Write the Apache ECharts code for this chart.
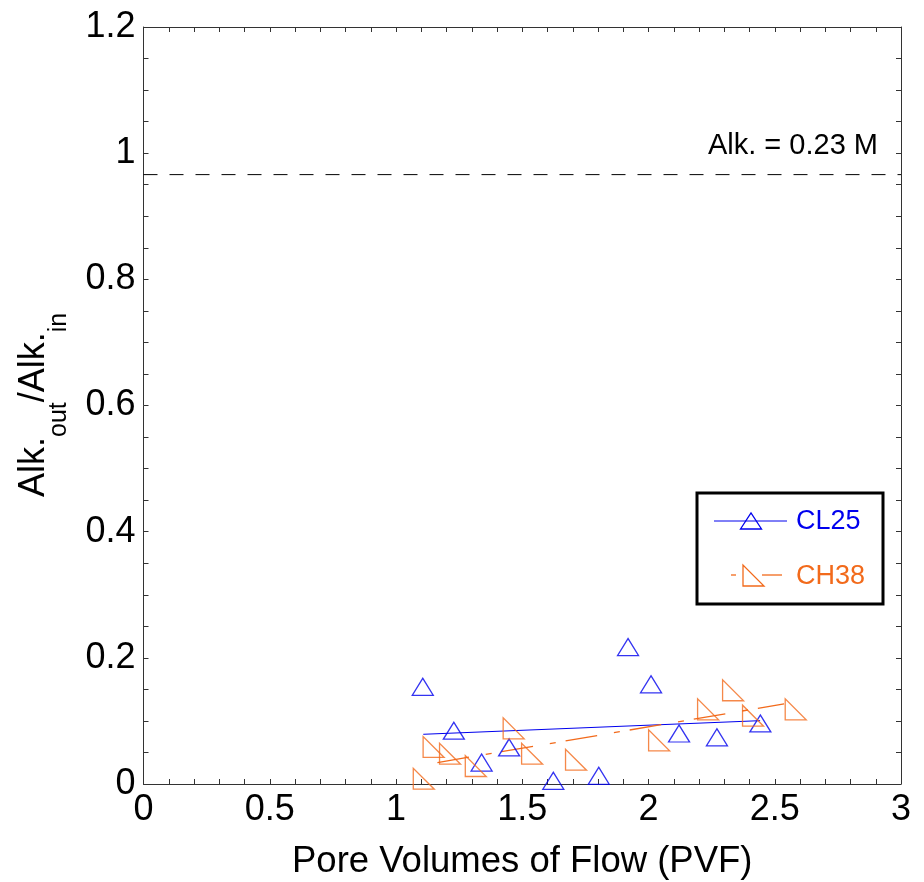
<!DOCTYPE html>
<html><head><meta charset="utf-8">
<script src="https://cdn.jsdelivr.net/npm/echarts@6/dist/echarts.min.js"></script>
<style>html,body{margin:0;padding:0;background:#fff}#c{width:924px;height:882px}</style>
</head><body><div id="c"></div>
<script>
// ---- data ----
const seriesNames = ['CL25', 'CH38'];
const cl25X = [1.106, 1.229, 1.339, 1.448, 1.623, 1.803, 1.919, 2.010, 2.121, 2.271, 2.443];
const cl25Y = [0.154, 0.0845, 0.034, 0.058, 0.005, 0.013, 0.217, 0.158, 0.080, 0.074, 0.096];
const ch38X = [1.149, 1.214, 1.316, 1.110, 1.466, 1.539, 1.713, 2.042, 2.236, 2.335, 2.414, 2.583];
const ch38Y = [0.0587, 0.048, 0.0285, 0.0084, 0.0883, 0.048, 0.0385, 0.0693, 0.1184, 0.1486, 0.1083, 0.1184];
const cl25FitX = [1.108, 2.442];
const cl25FitY = [0.0788, 0.1004];
const ch38FitX = [1.164, 2.537];
const ch38FitY = [0.034, 0.127];
const refLineX = [0, 3];
const refLineY = [0.966, 0.966];
const refLabel = 'Alk. = 0.23 M';
const xName = 'Pore Volumes of Flow (PVF)';
const yNameParts = ['Alk.', 'out', '/Alk.', 'in'];

// ---- styling ----
const FF = 'Liberation Sans, Arial, Helvetica, sans-serif';
const BLUE = '#0000ee';
const ORANGE = '#f26a1b';
const AX = '#333333';
const pair = (xs, ys) => xs.map((x, i) => [x, ys[i]]);

const tickCommon = {
  axisLine: { show: true, onZero: false, lineStyle: { color: AX, width: 1 } },
  axisTick: { show: true, inside: true, length: 5, lineStyle: { color: AX, width: 1 } },
  minorTick: { show: true, length: 5, lineStyle: { color: AX, width: 1 } },
  splitLine: { show: false }
};

const chart = echarts.init(document.getElementById('c'), null, { renderer: 'canvas' });
const option = {
  animation: false,
  backgroundColor: '#ffffff',
  grid: { left: 143.5, right: 23, top: 27, bottom: 98, containLabel: false, outerBoundsMode: 'none' },
  xAxis: [
    Object.assign({}, tickCommon, {
      type: 'value', min: 0, max: 3, interval: 0.5, position: 'bottom',
      minorTick: Object.assign({}, tickCommon.minorTick, { splitNumber: 5 }),
      axisLabel: { fontSize: 36, margin: 8, color: '#000', fontFamily: FF },
      name: xName, nameLocation: 'middle', nameGap: 59,
      nameTextStyle: { fontSize: 36.5, color: '#000', fontFamily: FF }
    }),
    Object.assign({}, tickCommon, {
      type: 'value', min: 0, max: 3, interval: 0.5, position: 'top',
      minorTick: Object.assign({}, tickCommon.minorTick, { splitNumber: 5 }),
      axisLabel: { show: false }
    })
  ],
  yAxis: [
    Object.assign({}, tickCommon, {
      type: 'value', min: 0, max: 1.2, interval: 0.2, position: 'left',
      minorTick: Object.assign({}, tickCommon.minorTick, { splitNumber: 4 }),
      axisLabel: { fontSize: 36, margin: 8, color: '#000', fontFamily: FF }
    }),
    Object.assign({}, tickCommon, {
      type: 'value', min: 0, max: 1.2, interval: 0.2, position: 'right',
      minorTick: Object.assign({}, tickCommon.minorTick, { splitNumber: 4 }),
      axisLabel: { show: false }
    })
  ],
  series: [
    {
      type: 'line', name: 'ref', data: pair(refLineX, refLineY), symbol: 'none', silent: true,
      lineStyle: { color: '#000', width: 1, type: [14, 12] }, z: 1
    },
    {
      type: 'line', name: seriesNames[0] + ' fit', data: pair(cl25FitX, cl25FitY), symbol: 'none', silent: true,
      lineStyle: { color: BLUE, width: 1 }, z: 2
    },
    {
      type: 'line', name: seriesNames[1] + ' fit', data: pair(ch38FitX, ch38FitY), symbol: 'none', silent: true,
      lineStyle: { color: ORANGE, width: 1.3, type: [32, 17, 6, 10] }, z: 2
    },
    {
      type: 'scatter', name: seriesNames[0], data: pair(cl25X, cl25Y),
      symbol: 'triangle', symbolSize: [21, 17],
      itemStyle: { color: 'rgba(255,255,255,0)', borderColor: BLUE, borderWidth: 1.3 }, z: 3
    },
    {
      type: 'scatter', name: seriesNames[1], data: pair(ch38X, ch38Y),
      symbol: 'path://M0 0L0 20L20 20Z', symbolSize: [21, 21],
      itemStyle: { color: 'rgba(255,255,255,0)', borderColor: ORANGE, borderWidth: 1.3 }, z: 3
    }
  ],
  graphic: [
    { type: 'text', x: 878, y: 146, style: { text: refLabel, fontSize: 29, fontFamily: FF, fill: '#000', align: 'right', verticalAlign: 'middle' } },
    // legend
    { type: 'rect', shape: { x: 697, y: 493, width: 186, height: 111 }, style: { fill: '#fff', stroke: '#000', lineWidth: 3 }, z: 10 },
    { type: 'line', shape: { x1: 714, y1: 521, x2: 787, y2: 521 }, style: { stroke: BLUE, lineWidth: 1 }, z: 11 },
    { type: 'polygon', shape: { points: [[740.5, 529], [751, 513], [761.5, 529]] }, style: { fill: 'rgba(255,255,255,0)', stroke: BLUE, lineWidth: 1.3 }, z: 11 },
    { type: 'text', x: 796, y: 522, style: { text: seriesNames[0], fontSize: 27, fontFamily: FF, fill: BLUE, align: 'left', verticalAlign: 'middle' }, z: 11 },
    { type: 'line', shape: { x1: 731, y1: 575, x2: 736, y2: 575 }, style: { stroke: ORANGE, lineWidth: 1.3 }, z: 11 },
    { type: 'line', shape: { x1: 762, y1: 575, x2: 782, y2: 575 }, style: { stroke: ORANGE, lineWidth: 1.3 }, z: 11 },
    { type: 'polygon', shape: { points: [[743, 565], [743, 586], [764, 586]] }, style: { fill: 'rgba(255,255,255,0)', stroke: ORANGE, lineWidth: 1.3 }, z: 11 },
    { type: 'text', x: 796, y: 577, style: { text: seriesNames[1], fontSize: 27, fontFamily: FF, fill: ORANGE, align: 'left', verticalAlign: 'middle' }, z: 11 },
    // y axis name (rotated, with subscripts)
    {
      type: 'group', x: 47, y: 497, rotation: Math.PI / 2,
      children: [
        { type: 'text', x: 0, y: -12.5, style: { text: yNameParts[0], fontSize: 36, fontFamily: FF, fill: '#000', align: 'left', verticalAlign: 'middle' } },
        { type: 'text', x: 60, y: 12.5, style: { text: yNameParts[1], fontSize: 25, fontFamily: FF, fill: '#000', align: 'left', verticalAlign: 'middle' } },
        { type: 'text', x: 94.8, y: -12.5, style: { text: yNameParts[2], fontSize: 36, fontFamily: FF, fill: '#000', align: 'left', verticalAlign: 'middle' } },
        { type: 'text', x: 164.8, y: 12.5, style: { text: yNameParts[3], fontSize: 25, fontFamily: FF, fill: '#000', align: 'left', verticalAlign: 'middle' } }
      ]
    }
  ]
};
chart.setOption(option);
</script>
</body></html>
